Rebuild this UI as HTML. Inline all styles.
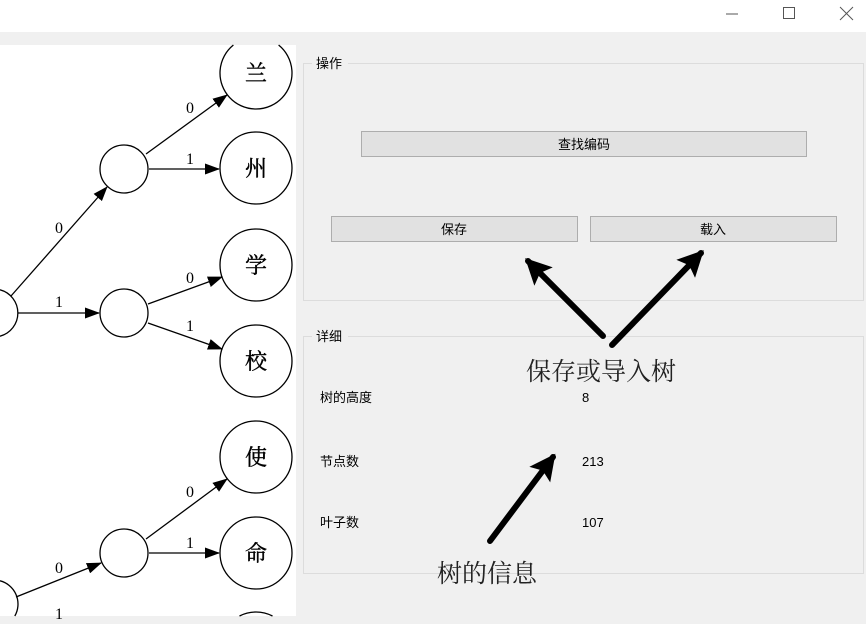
<!DOCTYPE html>
<html><head><meta charset="utf-8"><style>
html,body{margin:0;padding:0;width:866px;height:624px;overflow:hidden;background:#f0f0f0}
svg{position:absolute;left:0;top:0}
</style></head><body>
<svg width="866" height="624" viewBox="0 0 866 624" xmlns="http://www.w3.org/2000/svg">
<defs>
<marker id="a" markerWidth="15" markerHeight="11" refX="14" refY="5.5" orient="auto" markerUnits="userSpaceOnUse" viewBox="0 0 15 11"><path d="M0,0 L15,5.5 L0,11 z" fill="#000"/></marker>
<marker id="b" markerWidth="26" markerHeight="26" refX="22" refY="13" orient="auto" markerUnits="userSpaceOnUse" viewBox="0 0 26 26"><path d="M0,0 L26,13 L0,26 L5,13 z" fill="#000"/></marker>
</defs>
<rect x="0" y="0" width="866" height="32" fill="#fff"/>
<g stroke="#555" stroke-width="1" fill="none">
<line x1="726" y1="14" x2="738" y2="14"/>
<rect x="783.5" y="7.5" width="11" height="11"/>
<line x1="840" y1="7" x2="853" y2="20"/><line x1="853" y1="7" x2="840" y2="20"/>
</g>
<rect x="0" y="45" width="296" height="571" fill="#fff"/>
<g stroke="#000" stroke-width="1.3" fill="#fff" font-family="'Liberation Serif','Noto Serif CJK SC',serif">
<path d="M233.4,45 A36,36 0 1,0 278.6,45" fill="#fff"/>
<circle cx="256" cy="168" r="36"/>
<circle cx="256" cy="265" r="36"/><circle cx="256" cy="361" r="36"/>
<circle cx="256" cy="457" r="36"/><circle cx="256" cy="553" r="36"/>
<path d="M239.5,616 A36,36 0 0,1 272.5,616" fill="none"/>
<circle cx="124" cy="169" r="24"/><circle cx="124" cy="313" r="24"/><circle cx="124" cy="553" r="24"/>
<path d="M0,289.8 A24,24 0 0,1 0,336.2" fill="none"/>
<path d="M0,580.8 A24,24 0 0,1 14.8,616" fill="none"/>
<g fill="none" marker-end="url(#a)">
<line x1="146" y1="154" x2="227" y2="95"/>
<line x1="149" y1="169" x2="219" y2="169"/>
<line x1="11" y1="296" x2="107" y2="187"/>
<line x1="18" y1="313" x2="99" y2="313"/>
<line x1="148" y1="304" x2="222" y2="277"/>
<line x1="148" y1="323" x2="222" y2="349"/>
<line x1="146" y1="539" x2="227" y2="479"/>
<line x1="149" y1="553" x2="219" y2="553"/>
<line x1="16" y1="597" x2="101" y2="563"/>
</g>
<g fill="#000" stroke="none" font-size="16" text-anchor="middle">
<text x="190" y="113">0</text><text x="190" y="164">1</text>
<text x="59" y="233">0</text><text x="59" y="307">1</text>
<text x="190" y="283">0</text><text x="190" y="331">1</text>
<text x="190" y="497">0</text><text x="190" y="548">1</text>
<text x="59" y="573">0</text><text x="59" y="619">1</text>
</g>
<g fill="#000" stroke="#000" stroke-width="0.4" font-size="22" text-anchor="middle" font-family="'Noto Serif CJK SC',serif">
<text x="256" y="81">兰</text><text x="256" y="176">州</text>
<text x="256" y="273">学</text><text x="256" y="369">校</text>
<text x="256" y="465">使</text><text x="256" y="561">命</text>
</g>
</g>
<g font-family="'Liberation Sans','Noto Sans CJK SC',sans-serif" font-size="13" fill="#000">
<rect x="303.5" y="63.5" width="560" height="237" fill="none" stroke="#dcdcdc"/>
<rect x="312" y="55" width="36" height="16" fill="#f0f0f0"/>
<text x="316" y="68">操作</text>
<rect x="303.5" y="336.5" width="560" height="237" fill="none" stroke="#dcdcdc"/>
<rect x="312" y="328" width="36" height="16" fill="#f0f0f0"/>
<text x="316" y="341">详细</text>
<rect x="361.5" y="131.5" width="445" height="25" fill="#e1e1e1" stroke="#adadad"/>
<text x="584" y="149" text-anchor="middle">查找编码</text>
<rect x="331.5" y="216.5" width="246" height="25" fill="#e1e1e1" stroke="#adadad"/>
<text x="454" y="234" text-anchor="middle">保存</text>
<rect x="590.5" y="216.5" width="246" height="25" fill="#e1e1e1" stroke="#adadad"/>
<text x="713" y="234" text-anchor="middle">载入</text>
<text x="320" y="402">树的高度</text><text x="582" y="402">8</text>
<text x="320" y="466">节点数</text><text x="582" y="466">213</text>
<text x="320" y="527">叶子数</text><text x="582" y="527">107</text>
</g>
<g stroke="#000" stroke-width="6" stroke-linecap="round" fill="none">
<line x1="603" y1="336" x2="528" y2="261" marker-end="url(#b)"/>
<line x1="612" y1="345" x2="701" y2="253" marker-end="url(#b)"/>
<line x1="490" y1="541" x2="553" y2="457" marker-end="url(#b)"/>
</g>
<g font-family="'Noto Serif CJK SC',serif" font-size="25" fill="#222">
<text x="526" y="380">保存或导入树</text>
<text x="437" y="582">树的信息</text>
</g>
</svg>
</body></html>
